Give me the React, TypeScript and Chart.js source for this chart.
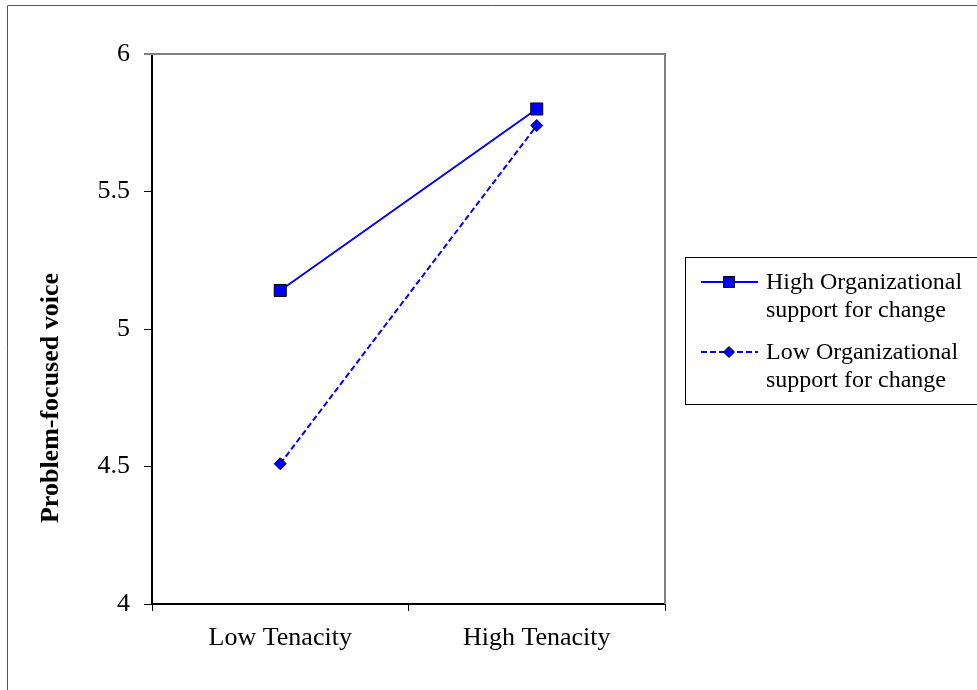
import React, { useEffect, useRef } from 'react';
import { Chart, registerables } from 'chart.js';

Chart.register(...registerables);

const categories = ['Low Tenacity', 'High Tenacity'];
const highSupport = [5.14, 5.8];
const lowSupport = [4.51, 5.74];
const seriesNames = ['High Organizational support for change', 'Low Organizational support for change'];
const legendLines = [
  ['High Organizational', 'support for change'],
  ['Low Organizational', 'support for change'],
];
const yTicks = [4, 4.5, 5, 5.5, 6];
const yTitle = 'Problem-focused voice';

const FONT = '"Liberation Serif", "Times New Roman", serif';

const decorPlugin = {
  id: 'decor',
  afterDraw(chart: any) {
    const { ctx, chartArea } = chart;
    const { left, right, top, bottom } = chartArea;
    ctx.save();
    // outer frame
    ctx.strokeStyle = '#555';
    ctx.lineWidth = 1;
    ctx.beginPath();
    ctx.moveTo(7.5, 700);
    ctx.lineTo(7.5, 5.5);
    ctx.lineTo(990, 5.5);
    ctx.stroke();
    // gray top and right borders of plot area
    ctx.strokeStyle = '#808080';
    ctx.lineWidth = 2;
    ctx.beginPath();
    ctx.moveTo(left - 8, top);
    ctx.lineTo(right, top);
    ctx.lineTo(right, bottom);
    ctx.stroke();
    // y axis title
    ctx.fillStyle = '#000';
    ctx.font = `bold 26px ${FONT}`;
    ctx.textAlign = 'center';
    ctx.textBaseline = 'middle';
    ctx.translate(51, 398);
    ctx.rotate(-Math.PI / 2);
    ctx.fillText(yTitle, 0, 0);
    ctx.restore();

    // legend
    ctx.save();
    ctx.strokeStyle = '#000';
    ctx.lineWidth = 1;
    ctx.strokeRect(685.5, 257.5, 320, 147);
    const ds = chart.data.datasets;
    const entryTop = [289, 359];
    ds.forEach((d: any, i: number) => {
      const base = entryTop[i];
      const sy = base - 7;
      ctx.strokeStyle = d.borderColor;
      ctx.lineWidth = 2;
      ctx.setLineDash(d.borderDash || []);
      ctx.beginPath();
      ctx.moveTo(701, sy);
      ctx.lineTo(758, sy);
      ctx.stroke();
      ctx.setLineDash([]);
      ctx.fillStyle = d.pointBackgroundColor;
      ctx.strokeStyle = d.pointBorderColor;
      ctx.lineWidth = 1;
      ctx.beginPath();
      if (d.pointStyle === 'rect') {
        ctx.rect(729 - 5.5, sy - 5.5, 11, 11);
      } else {
        ctx.moveTo(729, sy - 5.5);
        ctx.lineTo(734.5, sy);
        ctx.lineTo(729, sy + 5.5);
        ctx.lineTo(723.5, sy);
        ctx.closePath();
      }
      ctx.fill();
      ctx.stroke();
      ctx.fillStyle = '#000';
      ctx.font = `24px ${FONT}`;
      ctx.textAlign = 'left';
      ctx.textBaseline = 'alphabetic';
      legendLines[i].forEach((t, j) => {
        ctx.fillText(t, 766, base + j * 28);
      });
    });
    ctx.restore();
  },
};

export default function App() {
  const ref = useRef<HTMLCanvasElement>(null);
  useEffect(() => {
    if (!ref.current) return;
    const chart = new Chart(ref.current, {
      type: 'line',
      data: {
        labels: categories,
        datasets: [
          {
            label: seriesNames[0],
            data: highSupport,
            borderColor: '#0000FF',
            borderWidth: 2,
            pointStyle: 'rect',
            pointRadius: 8.5,
            pointBackgroundColor: '#0000FF',
            pointBorderColor: '#000000',
            pointBorderWidth: 1,
            tension: 0,
            fill: false,
          },
          {
            label: seriesNames[1],
            data: lowSupport,
            borderColor: '#0000FF',
            borderWidth: 2,
            borderDash: [6, 3],
            pointStyle: 'rectRot',
            pointRadius: 6,
            pointBackgroundColor: '#0000FF',
            pointBorderColor: '#000000',
            pointBorderWidth: 1,
            tension: 0,
            fill: false,
          },
        ],
      },
      options: {
        responsive: false,
        animation: false,
        devicePixelRatio: 1,
        layout: { padding: { left: 0, right: 312, top: 54, bottom: 0 } },
        plugins: {
          legend: { display: false },
          tooltip: { enabled: false },
          title: { display: false },
        },
        scales: {
          x: {
            type: 'category',
            offset: true,
            grid: { offset: true, drawOnChartArea: false, drawTicks: true, tickLength: 7, color: '#000', lineWidth: 1 },
            border: { display: true, color: '#000', width: 2 },
            ticks: { font: { family: FONT, size: 26 }, color: '#000', padding: 12, maxRotation: 0 },
            afterFit: (s: any) => { s.height = 86; },
          },
          y: {
            min: yTicks[0],
            max: yTicks[yTicks.length - 1],
            ticks: {
              stepSize: yTicks[1] - yTicks[0],
              font: { family: FONT, size: 26 },
              color: '#000',
              padding: 14,
              callback: (v: any) => String(Number(v)),
            },
            grid: { drawOnChartArea: false, drawTicks: true, tickLength: 8, color: '#000', lineWidth: 1 },
            border: { display: true, color: '#000', width: 2 },
            afterFit: (s: any) => { s.width = 152; },
          },
        },
      },
      plugins: [decorPlugin],
    });
    return () => chart.destroy();
  }, []);
  return (
    <div style={{ position: 'absolute', left: 0, top: 0, width: 977, height: 690, background: '#fff' }}>
      <canvas ref={ref} width={977} height={690} style={{ display: 'block' }} />
    </div>
  );
}
